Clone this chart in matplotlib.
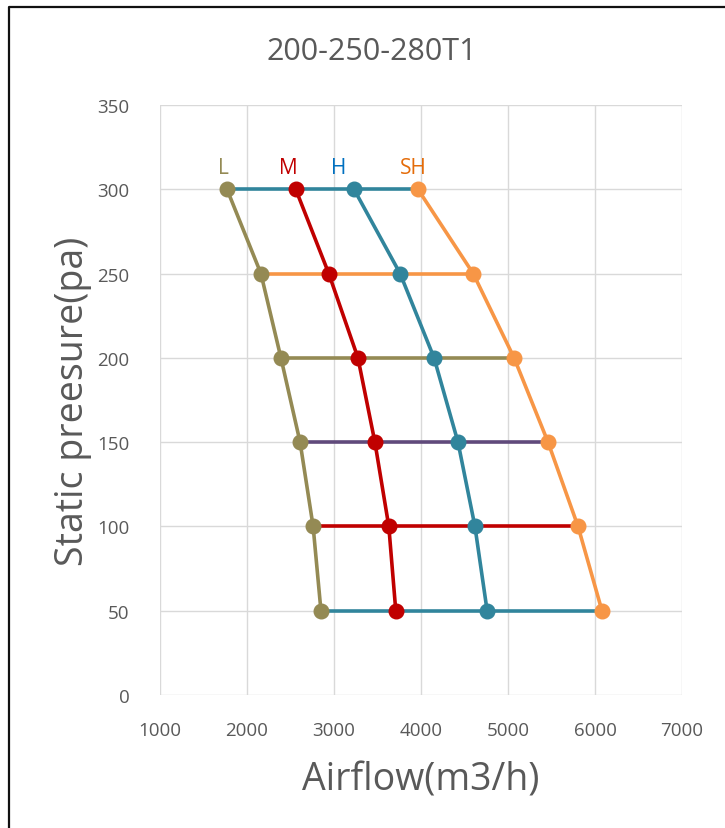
import matplotlib.pyplot as plt
from matplotlib.lines import Line2D

# Presiones estáticas (pa)
pressure = [300, 250, 200, 150, 100, 50]

# Caudal (m3/h) para cada velocidad
flow_L = [1770, 2160, 2390, 2610, 2760, 2850]
flow_M = [2560, 2940, 3275, 3470, 3630, 3710]
flow_H = [3230, 3760, 4150, 4425, 4620, 4760]
flow_SH = [3965, 4600, 5070, 5460, 5805, 6080]

speed_names = ['L', 'M', 'H', 'SH']
line_colors = ['#948A54', '#C00000', '#31859C', '#F79646']
label_colors = ['#948A54', '#C00000', '#0070C0', '#E46C0A']

# Colores de las líneas horizontales (de 300 a 50 pa)
level_colors = ['#31859C', '#F79646', '#948A54', '#604A7B', '#C00000', '#31859C']

plt.rcParams['font.family'] = ['Open Sans', 'DejaVu Sans']

fig = plt.figure(figsize=(7.25, 8.29), dpi=100)
ax = fig.add_axes([160 / 725, 1 - 696 / 829, 522 / 725, 590 / 829])

flows = [flow_L, flow_M, flow_H, flow_SH]

# Líneas horizontales entre L y SH
for i, p in enumerate(pressure):
    ax.plot([flow_L[i], flow_SH[i]], [p, p], color=level_colors[i],
            lw=2.6, zorder=2, solid_capstyle='butt')

for flow, c in zip(flows, line_colors):
    ax.plot(flow, pressure, color=c, lw=2.6, marker='o', markersize=10.5,
            zorder=3)

# Etiquetas de cada curva
label_offsets = [-46, -89, -173, -57]
for flow, name, c, off in zip(flows, speed_names, label_colors, label_offsets):
    ax.text(flow[0] + off, 313, name, color=c, fontsize=15,
            ha='center', va='center')

ax.set_xlim(1000, 7000)
ax.set_ylim(0, 350)
ax.set_xticks(range(1000, 7001, 1000))
ax.set_yticks(range(0, 351, 50))
ax.grid(True, color='#D9D9D9', lw=1)
ax.set_axisbelow(True)
for s in ax.spines.values():
    s.set_visible(False)
ax.tick_params(length=0, labelsize=13.5, colors='#595959')
ax.tick_params(axis='x', pad=19)
ax.tick_params(axis='y', pad=22)

ax.set_xlabel('Airflow(m3/h)', fontsize=27, color='#595959', labelpad=15)
ax.set_ylabel('Static preesure(pa)', fontsize=27, color='#595959', labelpad=4)
fig.text(372 / 725, 1 - 52 / 829, '200-250-280T1', fontsize=22,
         color='#595959', ha='center', va='center')

# Borde del área del gráfico (solo arriba e izquierda visibles)
bx, by = 8.5 / 725, 1 - 8 / 829
fig.lines.append(Line2D([bx, bx, 1.0], [0.0, by, by], transform=fig.transFigure,
                        color='#111111', lw=1.6))

fig.savefig('out.png', dpi=100)
